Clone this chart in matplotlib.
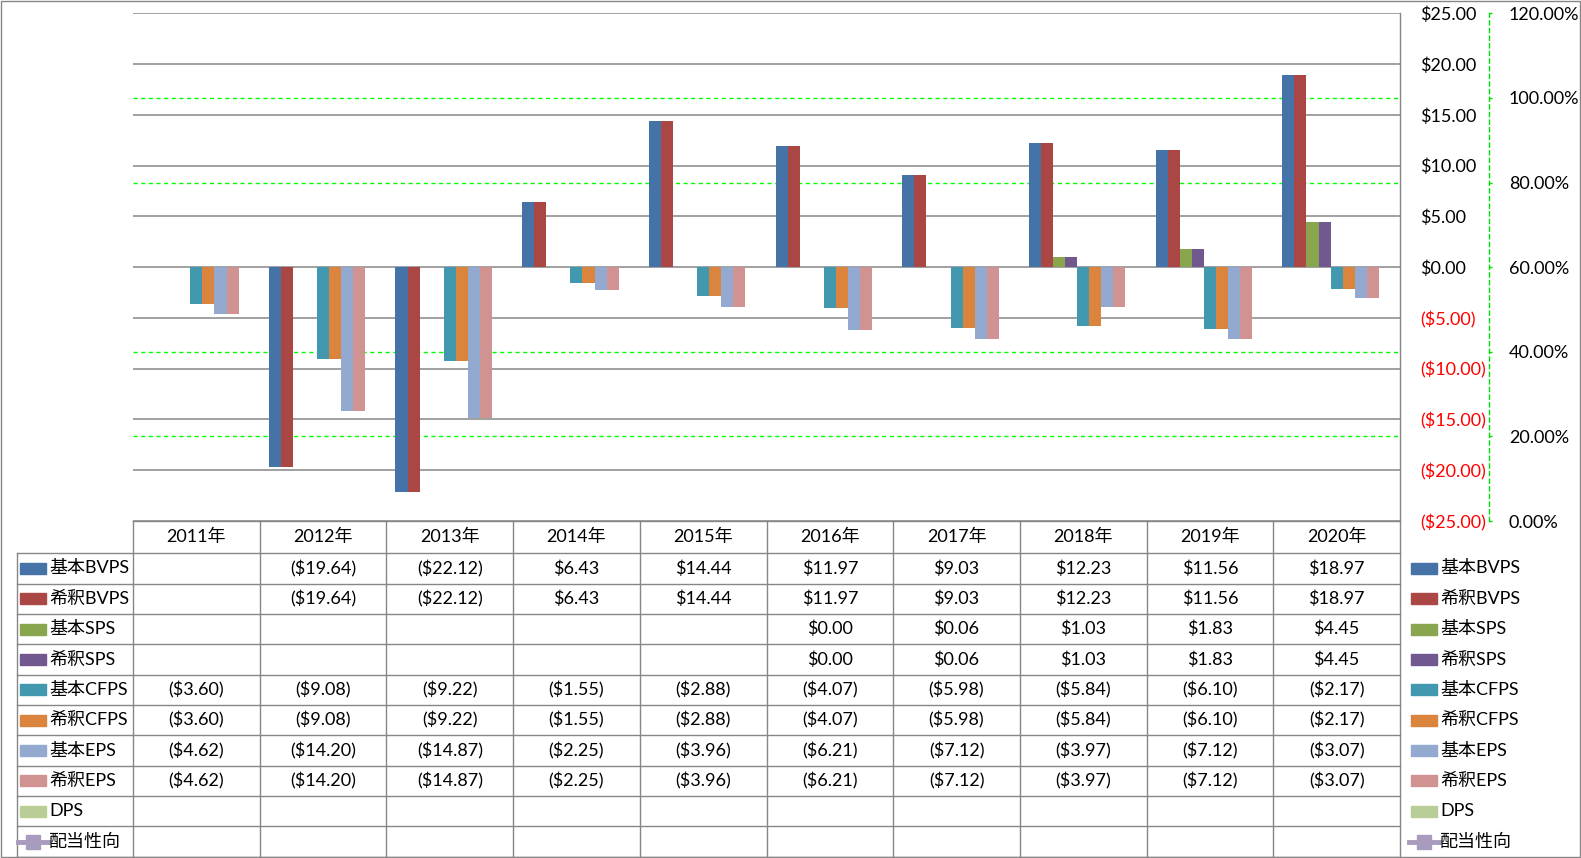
import matplotlib.pyplot as plt
import numpy as np
from matplotlib.patches import Rectangle
from matplotlib.transforms import blended_transform_factory

plt.rcParams['font.family'] = ['Lato', 'Noto Sans CJK JP', 'DejaVu Sans']
plt.rcParams['font.size'] = 13

nan = np.nan

# datos
years = ['2011年', '2012年', '2013年', '2014年', '2015年',
         '2016年', '2017年', '2018年', '2019年', '2020年']
bvps_basic = [nan, -19.64, -22.12, 6.43, 14.44, 11.97, 9.03, 12.23, 11.56, 18.97]
bvps_diluted = [nan, -19.64, -22.12, 6.43, 14.44, 11.97, 9.03, 12.23, 11.56, 18.97]
sps_basic = [nan, nan, nan, nan, nan, 0.00, 0.06, 1.03, 1.83, 4.45]
sps_diluted = [nan, nan, nan, nan, nan, 0.00, 0.06, 1.03, 1.83, 4.45]
cfps_basic = [-3.60, -9.08, -9.22, -1.55, -2.88, -4.07, -5.98, -5.84, -6.10, -2.17]
cfps_diluted = [-3.60, -9.08, -9.22, -1.55, -2.88, -4.07, -5.98, -5.84, -6.10, -2.17]
eps_basic = [-4.62, -14.20, -14.87, -2.25, -3.96, -6.21, -7.12, -3.97, -7.12, -3.07]
eps_diluted = [-4.62, -14.20, -14.87, -2.25, -3.96, -6.21, -7.12, -3.97, -7.12, -3.07]
dps = [nan] * 10
payout_ratio = [nan] * 10  # 配当性向 (eje secundario, sin datos)

bar_names = ['基本BVPS', '希釈BVPS', '基本SPS', '希釈SPS', '基本CFPS',
             '希釈CFPS', '基本EPS', '希釈EPS', 'DPS']
bar_data = [bvps_basic, bvps_diluted, sps_basic, sps_diluted, cfps_basic,
            cfps_diluted, eps_basic, eps_diluted, dps]
bar_colors = ['#4572A7', '#AA4643', '#89A54E', '#71588F', '#4198AF',
              '#DB843D', '#93A9CF', '#D19392', '#B9CD96']
line_name = '配当性向'
line_color = '#A99BBD'

primary_ticks = np.arange(-25, 26, 5)
secondary_ticks = np.arange(0, 1.21, 0.2)
# las lineas verdes visibles (las demas quedan bajo las grises)
green_grid = [0.2, 0.4, 0.8, 1.0]


def money(v):
    if v < 0:
        return f'(${-v:.2f})'
    return f'${v:.2f}'


W, H = 1581, 858
fig = plt.figure(figsize=(W / 100, H / 100), dpi=100)

# capa de fondo en pixeles para la tabla y la leyenda
ov = fig.add_axes([0, 0, 1, 1])
ov.set_xlim(0, W)
ov.set_ylim(H, 0)
ov.axis('off')

X0, X1, Y0, Y1 = 133, 1400, 13.3, 521
ax = fig.add_axes([X0 / W, 1 - Y1 / H, (X1 - X0) / W, (Y1 - Y0) / H])
ax.patch.set_visible(False)
ax2 = ax.twinx()

n = len(years)
x = np.arange(n)
w = 1 / 10.5
for i, (vals, c) in enumerate(zip(bar_data, bar_colors)):
    ax.bar(x + (i - 4) * w, vals, width=w, color=c, zorder=2)

ax.set_xlim(-0.5, n - 0.5)
ax.set_ylim(-25, 25)
ax.yaxis.tick_right()
ax.set_yticks(primary_ticks, labels=[money(v) for v in primary_ticks])
ax.tick_params(axis='y', length=0, pad=14.4)
ax.tick_params(axis='x', bottom=False, labelbottom=False)
for tick, v in zip(ax.yaxis.get_major_ticks(), primary_ticks):
    tick.label2.set_color('#FF0000' if v < 0 else 'black')
ax.yaxis.grid(True, color='#868686', lw=1.1, zorder=0.6)
ax.set_axisbelow(True)
for s in ax.spines.values():
    s.set_visible(False)

ax2.set_ylim(0, 1.2)
ax2.set_yticks(secondary_ticks, labels=[f'{v * 100:.2f}%' for v in secondary_ticks])
for s in ['top', 'left', 'bottom']:
    ax2.spines[s].set_visible(False)
ax2.spines['right'].set_position(('outward', 64))
ax2.spines['right'].set_color('#00E000')
ax2.spines['right'].set_linestyle((0, (3, 2.5)))
ax2.spines['right'].set_linewidth(1)
ax2.tick_params(axis='y', direction='out', length=2.2, width=1,
                color='#00E000', pad=12.2)
ax2.plot(x, payout_ratio, color=line_color, lw=3, marker='s')

# lineas de cuadricula verdes del eje secundario, por debajo de las barras
tr = blended_transform_factory(ax.transAxes, ax2.transData)
ax.hlines(green_grid, 0, 1, transform=tr, colors='#00FF00', lw=1,
          linestyles=(0, (3, 2.5)), zorder=0.4)

# tabla de datos
grid_c = '#868686'
col_w = (X1 - X0) / n
row_top = 553.3
row_h = 30.34
rows = bar_data + [payout_ratio]
names = bar_names + [line_name]
bottom = row_top + row_h * len(rows)

ov.plot([X0, X1], [Y1, Y1], color=grid_c, lw=1)
for k in range(len(rows) + 1):
    ov.plot([16.7, X1], [row_top + k * row_h] * 2, color=grid_c, lw=1)
ov.plot([16.7, 16.7], [row_top, bottom], color=grid_c, lw=1)
for j in range(n):
    ov.plot([X0 + j * col_w] * 2, [Y1, bottom], color=grid_c, lw=1)
ov.plot([X1, X1], [Y0, bottom], color=grid_c, lw=1)
ov.add_patch(Rectangle((1, 1), W - 2, bottom - 1, fill=False, ec=grid_c, lw=1))

for j, yr in enumerate(years):
    ov.text(X0 + (j + 0.5) * col_w, (Y1 + row_top) / 2, yr, ha='center', va='center')

for i, (name, vals) in enumerate(zip(names, rows)):
    cy = row_top + (i + 0.5) * row_h
    for j, v in enumerate(vals):
        if not np.isnan(v):
            ov.text(X0 + (j + 0.5) * col_w, cy, money(v), ha='center', va='center')
    for kx, tx in [(20, 49), (1411, 1440)]:
        if i < len(bar_names):
            ov.add_patch(Rectangle((kx, cy - 5.5), 26, 11, color=bar_colors[i]))
        else:
            ov.plot([kx - 2, kx + 28], [cy, cy], color=line_color, lw=3.5)
            ov.plot([kx + 13], [cy], marker='s', ms=10, color=line_color)
        ov.text(tx, cy, name, ha='left', va='center')

fig.savefig('out.png', dpi=100)
